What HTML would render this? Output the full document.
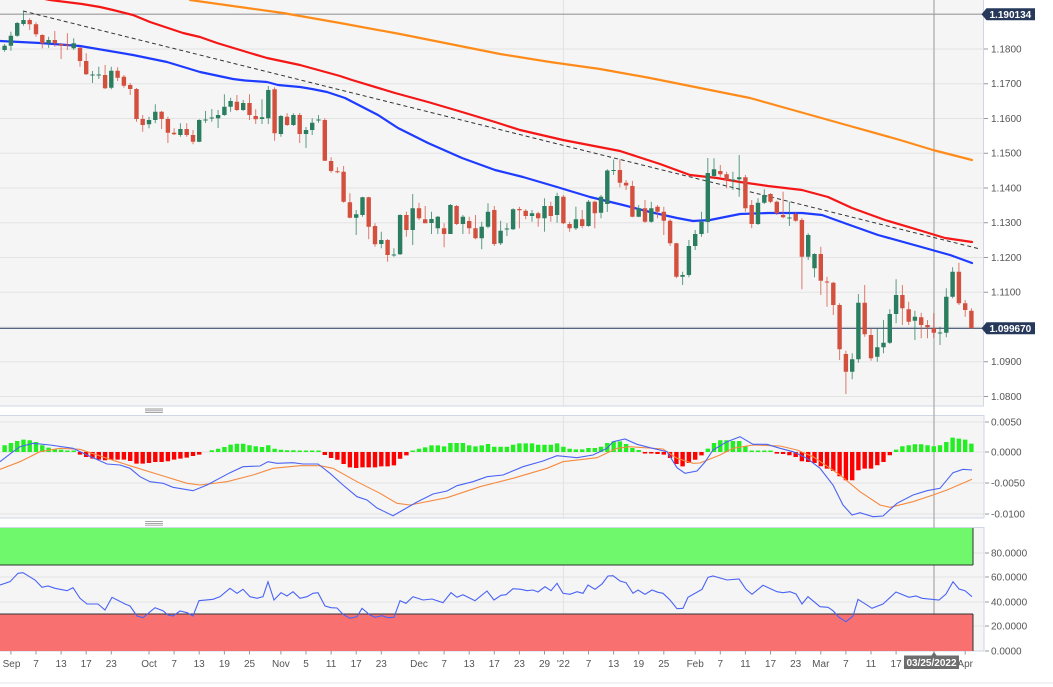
<!DOCTYPE html>
<html><head><meta charset="utf-8"><style>
html,body{margin:0;padding:0;background:#fff;}
svg{display:block;font-family:"Liberation Sans",sans-serif;}
</style></head><body>
<svg width="1053" height="687" viewBox="0 0 1053 687" xmlns="http://www.w3.org/2000/svg">
<rect x="0" y="0" width="1053" height="687" fill="#fff"/>
<!-- panel backgrounds -->
<rect x="0" y="0" width="983.5" height="406" fill="#f5f5f5"/>
<rect x="0" y="415" width="984" height="103" fill="#f5f5f5"/>
<rect x="0" y="527" width="984" height="124" fill="#f5f5f5"/>
<!-- gridlines main -->
<g stroke="#e3e3e3" stroke-width="1">
<path d="M0 49H983M0 83.7H983M0 118.5H983M0 153.2H983M0 188H983M0 222.7H983M0 257.5H983M0 292.2H983M0 327H983M0 361.7H983M0 396.5H983"/>
<path d="M0 422H984M0 452H984M0 483H984M0 514H984"/>
<path d="M0 553H984M0 577H984M0 602H984M0 626H984"/>
<path d="M563.4 0V406M563.4 415V518M563.4 527V651"/>
</g>
<!-- panel borders -->
<g stroke="#cfd6e4" stroke-width="1" fill="none">
<path d="M0 406H983.5V0"/>
<path d="M0 415.5H984V518H0"/>
<path d="M0 527.5H984V651H0"/>
</g>
<path d="M0 683H1053" stroke="#e2e5eb" stroke-width="1"/>
<!-- handles -->
<g stroke="#999" stroke-width="0.9">
<path d="M145 409H163M145 410.8H163M145 412.6H163"/>
<path d="M145 521.6H163M145 523.4H163M145 525.2H163"/>
</g>
<!-- crosshair -->
<path d="M934 0V655" stroke="#b3b3b3" stroke-width="1.4"/>
<!-- horizontal price lines -->
<path d="M0 14.2H983" stroke="#9a9a9a" stroke-width="1.2"/>
<path d="M0 328.3H983" stroke="#3f5070" stroke-width="1.2"/>
<!-- moving averages -->
<g fill="none" stroke-width="2.2" stroke-linejoin="round" stroke-linecap="round">
<polyline stroke="#ff8c1a" points="190,0 283,13 340,23 400,34 450,44 500,54 550,62 600,69 650,78 700,88 750,98 800,112 850,126 900,140 933,150 972,160"/>
<polyline stroke="#f51616" points="30,-4 50,0 82,4 100,7 113,10 133,15 150,22 183,33 200,37 217,43 250,53 267,58 300,65 340,76 352,80 395,93 428,102 462,112 495,122 520,130 563,140 620,151 660,164 690,175 717,178 740,182 768,186 802,190 828,197 852,208 885,220 922,231 945,238 972,242"/>
<polyline stroke="#1e3cff" points="0,41 20,42 40,43 80,46 133,55 167,62 200,72 233,79 245,80.5 267,82 278,85 300,87 312,89 327,92 345,98 378,115 398,128 428,143 462,158 495,170 523,177 557,187 590,197 623,205 650,212 677,218 693,221 710,220 740,214 768,213 802,213 822,215 847,224 878,235 925,248 950,255 972,263"/>
</g>
<!-- trendline -->
<path d="M23 11L980 249" stroke="#333" stroke-width="1" stroke-dasharray="4 3" fill="none"/>
<!-- candles wicks -->
<path fill="none" stroke="#2a7d5f" stroke-opacity="0.75" stroke-width="1" d="M4.6 44V51.7M10.9 31.7V50.7M17.2 22V36.7M23.5 10.7V25.7M48.6 36.7V47.7M73.7 38.3V50M92.5 71V83M98.8 66.7V79M111.3 66.7V89.3M149 116.7V128.3M155.3 104.3V123.3M180.4 123.3V136.7M199.2 119.3V142.3M205.5 111V123M211.8 109V121.7M218.1 110V128M224.4 94.3V115.7M230.6 97.7V111.7M243.2 100V111M262 99.3V124M268.3 86V124M280.9 115V136.7M293.4 113.3V126M306 127V148M312.2 118.3V135M318.5 115V122.7M356.2 210V235M362.5 196.7V216.7M381.3 231.7V248.3M393.9 248.3V256.7M400.1 214.3V255M412.7 194V245M431.5 211.7V234M437.8 216V234M450.4 204V234M462.9 215V234M481.7 221.7V249.3M488 203.3V228.3M500.6 220.7V245M506.9 223.3V236M513.1 208.3V230M532 210V221.7M544.5 198.3V231.7M557.1 192.7V222.7M575.9 206.7V230M588.5 200V226.7M601 195V218.3M607.3 169.3V212M613.6 159.5V175M638.7 205V217.3M651.3 201.7V222.7M682.6 271.7V285M688.9 240V277.3M695.2 230V250M701.5 211.7V236.7M707.8 158V233M714 158.3V178.3M732.9 171.7V190M739.2 155V196.7M758 198.3V225M764.3 189.3V204M789.4 201.7V226M808.2 233.3V260M814.5 253.3V277.3M852.2 353.3V379.3M858.4 294V362.7M877.3 328.3V361.7M883.5 320V353.3M889.8 309.3V344M896.1 279.3V323.3M914.9 310.7V340M940 326.7V345M946.3 288.3V337.3M952.6 267.3V298.3"/>
<path fill="none" stroke="#d4503e" stroke-opacity="0.75" stroke-width="1" d="M29.7 18.3V30M36 22.3V36.7M42.3 34.3V48.3M54.8 31V46.7M61.1 43.3V59M67.4 33.3V50M80 46.7V66.7M86.2 53.3V75M105.1 65V89M117.6 67.3V81M123.9 75V87.7M130.2 83V95M136.5 88V121.7M142.7 115V131.7M161.6 111V129M167.9 116.7V143M174.1 128.3V135M186.7 123.3V136.7M193 130V144.3M236.9 95V111M249.5 94.3V120M255.7 109.3V124M274.6 87.3V140.7M287.1 113.3V126M299.7 113V143M324.8 118.3V161M331.1 157.3V172.7M337.4 167.3V173.3M343.6 166V202.7M349.9 193.3V218.3M368.7 196.7V239.3M375 223.3V246.7M387.6 239V261.7M406.4 211.7V236.7M419 202.7V220M425.2 206V223.3M444.1 223.3V247.3M456.6 205V225M469.2 216.7V234M475.5 215V239.3M494.3 206V246M519.4 206.7V228.3M525.7 209.3V219.3M538.2 211.7V226.7M550.8 201.7V221.7M563.4 195V224M569.6 221.7V231.7M582.2 210V228.3M594.8 200.7V228.3M619.9 159.3V187.3M626.1 180V190M632.4 180.7V217.3M645 200V222.7M657.5 205V218.3M663.8 206.7V235M670.1 219.3V246M676.4 242.7V278.3M720.3 165V176.7M726.6 171.7V188.3M745.4 175V211.7M751.7 200V228.3M770.5 193.3V203.3M776.8 200.7V215M783.1 191.7V218.3M795.7 211.7V221.7M801.9 218V289.3M820.8 246.7V295M827 276.7V306.7M833.3 281.7V315M839.6 303.3V360M845.9 350.7V394M864.7 285V336.7M871 328.3V360.7M902.4 285V325M908.7 301.7V325M921.2 312.7V338.3M927.5 320V338.3M933.8 313.3V338.3M958.9 262.7V305M965.2 300V316.7M971.4 308.3V328.3"/>
<!-- candle bodies -->
<path fill="#2a7d5f" d="M2.4 45.7h4.4V50h-4.4ZM8.7 35.7h4.4V45.7h-4.4ZM15 23h4.4V35.7h-4.4ZM21.3 20h4.4V24h-4.4ZM46.4 40h4.4V43.3h-4.4ZM71.5 43.3h4.4V48.3h-4.4ZM90.3 74.5h4.4V75.5h-4.4ZM96.6 74.5h4.4V75.5h-4.4ZM109.1 70.7h4.4V87.7h-4.4ZM146.8 120h4.4V124.3h-4.4ZM153.1 111.7h4.4V120h-4.4ZM178.2 129h4.4V135h-4.4ZM197 120h4.4V141.7h-4.4ZM203.3 119.5h4.4V120.5h-4.4ZM209.6 117.5h4.4V118.5h-4.4ZM215.9 115h4.4V118.3h-4.4ZM222.2 106.7h4.4V115h-4.4ZM228.4 101h4.4V106.7h-4.4ZM241 103h4.4V110h-4.4ZM259.8 117.3h4.4V119h-4.4ZM266.1 90h4.4V118.3h-4.4ZM278.7 116h4.4V134h-4.4ZM291.2 115h4.4V125h-4.4ZM303.8 130h4.4V134h-4.4ZM310 122.7h4.4V130h-4.4ZM316.3 119.5h4.4V120.5h-4.4ZM354 214.3h4.4V217.7h-4.4ZM360.3 197.3h4.4V215h-4.4ZM379.1 240h4.4V244h-4.4ZM391.7 254.5h4.4V255.5h-4.4ZM397.9 215h4.4V254.3h-4.4ZM410.5 208.3h4.4V230h-4.4ZM429.3 219h4.4V223h-4.4ZM435.6 216.7h4.4V228.3h-4.4ZM448.2 205h4.4V234h-4.4ZM460.7 216.7h4.4V224h-4.4ZM479.5 226.7h4.4V238.3h-4.4ZM485.8 211.7h4.4V226.7h-4.4ZM498.4 230.7h4.4V243.3h-4.4ZM504.7 228.5h4.4V229.5h-4.4ZM510.9 209.3h4.4V229.3h-4.4ZM529.8 213.3h4.4V216h-4.4ZM542.3 206h4.4V218.3h-4.4ZM554.9 196h4.4V215h-4.4ZM573.7 219.3h4.4V228.3h-4.4ZM586.3 201.7h4.4V226h-4.4ZM598.8 196.7h4.4V212.7h-4.4ZM605.1 170.5h4.4V204h-4.4ZM611.4 170h4.4V171h-4.4ZM636.5 208.3h4.4V216.7h-4.4ZM649.1 208.3h4.4V221.7h-4.4ZM680.4 275h4.4V276.7h-4.4ZM686.7 246h4.4V275h-4.4ZM693 234h4.4V246h-4.4ZM699.3 221.7h4.4V234h-4.4ZM705.6 173h4.4V222h-4.4ZM711.8 169.3h4.4V176h-4.4ZM730.7 179.5h4.4V180.5h-4.4ZM737 177.3h4.4V179.3h-4.4ZM755.8 202.7h4.4V224h-4.4ZM762.1 195h4.4V202.7h-4.4ZM787.2 217.5h4.4V218.5h-4.4ZM806 235h4.4V256.7h-4.4ZM812.3 254h4.4V268.3h-4.4ZM850 359.3h4.4V371.7h-4.4ZM856.2 302.7h4.4V359.3h-4.4ZM875.1 347.3h4.4V356.7h-4.4ZM881.3 342.7h4.4V347.3h-4.4ZM887.6 314h4.4V342.7h-4.4ZM893.9 295h4.4V314h-4.4ZM912.7 316.7h4.4V320.7h-4.4ZM937.8 332.5h4.4V333.5h-4.4ZM944.1 296.7h4.4V332.7h-4.4ZM950.4 271.7h4.4V296.7h-4.4Z"/>
<path fill="#d4503e" d="M27.5 20h4.4V24.3h-4.4ZM33.8 24.3h4.4V34.3h-4.4ZM40.1 35h4.4V43.3h-4.4ZM52.6 40h4.4V43.3h-4.4ZM58.9 44h4.4V45.7h-4.4ZM65.2 44.5h4.4V45.5h-4.4ZM77.8 47.7h4.4V61h-4.4ZM84 61h4.4V74.3h-4.4ZM102.9 75h4.4V88.3h-4.4ZM115.4 70.7h4.4V77.7h-4.4ZM121.7 76.7h4.4V85.7h-4.4ZM128 85h4.4V89h-4.4ZM134.3 89h4.4V119h-4.4ZM140.5 119h4.4V125h-4.4ZM159.4 111.7h4.4V119h-4.4ZM165.7 119h4.4V132.7h-4.4ZM171.9 132.7h4.4V134.3h-4.4ZM184.5 129h4.4V135h-4.4ZM190.8 135h4.4V141.7h-4.4ZM234.7 101.7h4.4V110h-4.4ZM247.3 103h4.4V115h-4.4ZM253.5 116h4.4V119.3h-4.4ZM272.4 89.3h4.4V133.3h-4.4ZM284.9 116.7h4.4V125h-4.4ZM297.5 115h4.4V134h-4.4ZM322.6 120h4.4V160.7h-4.4ZM328.9 161h4.4V171h-4.4ZM335.2 171.2h4.4V172.2h-4.4ZM341.4 171.7h4.4V201.7h-4.4ZM347.7 202.3h4.4V217.7h-4.4ZM366.5 197.3h4.4V226.7h-4.4ZM372.8 226h4.4V244.3h-4.4ZM385.4 240h4.4V255h-4.4ZM404.2 215h4.4V230h-4.4ZM416.8 208.3h4.4V218.3h-4.4ZM423 219.3h4.4V223.3h-4.4ZM441.9 228.3h4.4V234h-4.4ZM454.4 206h4.4V224h-4.4ZM467 221h4.4V228.3h-4.4ZM473.3 228.3h4.4V238.3h-4.4ZM492.1 210h4.4V244h-4.4ZM517.2 209h4.4V210.3h-4.4ZM523.5 210.7h4.4V216h-4.4ZM536 213.3h4.4V218.3h-4.4ZM548.6 206h4.4V216h-4.4ZM561.2 196.7h4.4V223.3h-4.4ZM567.4 224h4.4V228.3h-4.4ZM580 219.3h4.4V226h-4.4ZM592.6 201.7h4.4V213.3h-4.4ZM617.7 170h4.4V182.7h-4.4ZM623.9 182.7h4.4V185.5h-4.4ZM630.2 186h4.4V216.7h-4.4ZM642.8 208.3h4.4V221.7h-4.4ZM655.3 206.7h4.4V211.7h-4.4ZM661.6 211.7h4.4V220.7h-4.4ZM667.9 220.7h4.4V243.3h-4.4ZM674.2 243.3h4.4V276.7h-4.4ZM718.1 171h4.4V174.3h-4.4ZM724.4 174.3h4.4V180h-4.4ZM743.2 177.3h4.4V208.3h-4.4ZM749.5 205h4.4V224h-4.4ZM768.3 194h4.4V201.7h-4.4ZM774.6 201.7h4.4V213.3h-4.4ZM780.9 215h4.4V217.3h-4.4ZM793.5 214h4.4V220.7h-4.4ZM799.7 220h4.4V256.7h-4.4ZM818.6 254h4.4V280.7h-4.4ZM824.8 281.5h4.4V282.5h-4.4ZM831.1 282.7h4.4V305h-4.4ZM837.4 305h4.4V349.3h-4.4ZM843.7 354h4.4V371.7h-4.4ZM862.5 302.7h4.4V334.3h-4.4ZM868.8 335h4.4V358.3h-4.4ZM900.2 295h4.4V308.3h-4.4ZM906.5 309.3h4.4V321.7h-4.4ZM919 317.3h4.4V325h-4.4ZM925.3 325h4.4V327.3h-4.4ZM931.6 328.3h4.4V332.7h-4.4ZM956.7 271.7h4.4V303.3h-4.4ZM963 303.3h4.4V310h-4.4ZM969.2 310.7h4.4V328.3h-4.4Z"/>
<!-- MACD histogram -->
<path fill="#22ee22" d="M2.4 445.3h4.4V452h-4.4ZM8.7 443h4.4V452h-4.4ZM15 441h4.4V452h-4.4ZM21.3 439.6h4.4V452h-4.4ZM27.5 440.3h4.4V452h-4.4ZM33.8 442h4.4V452h-4.4ZM40.1 445.3h4.4V452h-4.4ZM46.4 447.6h4.4V452h-4.4ZM52.6 449h4.4V452h-4.4ZM58.9 449.6h4.4V452h-4.4ZM65.2 450.5h4.4V452h-4.4ZM71.5 450.5h4.4V452h-4.4ZM209.6 450.3h4.4V452h-4.4ZM215.9 448.7h4.4V452h-4.4ZM222.2 447h4.4V452h-4.4ZM228.4 444.6h4.4V452h-4.4ZM234.7 443.7h4.4V452h-4.4ZM241 443.7h4.4V452h-4.4ZM247.3 445.3h4.4V452h-4.4ZM253.5 446.3h4.4V452h-4.4ZM259.8 447h4.4V452h-4.4ZM266.1 445.3h4.4V452h-4.4ZM272.4 448.7h4.4V452h-4.4ZM278.7 449.7h4.4V452h-4.4ZM284.9 450.3h4.4V452h-4.4ZM291.2 450.3h4.4V452h-4.4ZM297.5 450.5h4.4V452h-4.4ZM303.8 450.5h4.4V452h-4.4ZM310 450.5h4.4V452h-4.4ZM316.3 450.5h4.4V452h-4.4ZM410.5 450.5h4.4V452h-4.4ZM416.8 448.7h4.4V452h-4.4ZM423 447.4h4.4V452h-4.4ZM429.3 445.4h4.4V452h-4.4ZM435.6 445.4h4.4V452h-4.4ZM441.9 446.4h4.4V452h-4.4ZM448.2 443h4.4V452h-4.4ZM454.4 443h4.4V452h-4.4ZM460.7 443h4.4V452h-4.4ZM467 445.4h4.4V452h-4.4ZM473.3 446.4h4.4V452h-4.4ZM479.5 445.4h4.4V452h-4.4ZM485.8 444h4.4V452h-4.4ZM492.1 446.7h4.4V452h-4.4ZM498.4 446.7h4.4V452h-4.4ZM504.7 446.7h4.4V452h-4.4ZM510.9 444.7h4.4V452h-4.4ZM517.2 443.4h4.4V452h-4.4ZM523.5 443.4h4.4V452h-4.4ZM529.8 443.4h4.4V452h-4.4ZM536 444.7h4.4V452h-4.4ZM542.3 444.7h4.4V452h-4.4ZM548.6 444.7h4.4V452h-4.4ZM554.9 443.4h4.4V452h-4.4ZM561.2 446.7h4.4V452h-4.4ZM567.4 448.7h4.4V452h-4.4ZM573.7 449.4h4.4V452h-4.4ZM580 449.4h4.4V452h-4.4ZM586.3 448h4.4V452h-4.4ZM592.6 448h4.4V452h-4.4ZM598.8 446.7h4.4V452h-4.4ZM605.1 443h4.4V452h-4.4ZM611.4 441.4h4.4V452h-4.4ZM617.7 441.4h4.4V452h-4.4ZM623.9 444h4.4V452h-4.4ZM630.2 448h4.4V452h-4.4ZM636.5 450h4.4V452h-4.4ZM705.6 448.6h4.4V452h-4.4ZM711.8 443h4.4V452h-4.4ZM718.1 440.3h4.4V452h-4.4ZM724.4 440.3h4.4V452h-4.4ZM730.7 441h4.4V452h-4.4ZM737 441h4.4V452h-4.4ZM743.2 446.3h4.4V452h-4.4ZM749.5 450.5h4.4V452h-4.4ZM755.8 450.5h4.4V452h-4.4ZM762.1 450.5h4.4V452h-4.4ZM768.3 450.5h4.4V452h-4.4ZM893.9 449.6h4.4V452h-4.4ZM900.2 446.3h4.4V452h-4.4ZM906.5 445.3h4.4V452h-4.4ZM912.7 444.3h4.4V452h-4.4ZM919 444.3h4.4V452h-4.4ZM925.3 445.3h4.4V452h-4.4ZM931.6 446.3h4.4V452h-4.4ZM937.8 445.3h4.4V452h-4.4ZM944.1 442h4.4V452h-4.4ZM950.4 437.6h4.4V452h-4.4ZM956.7 438.6h4.4V452h-4.4ZM963 439.6h4.4V452h-4.4ZM969.2 443.6h4.4V452h-4.4Z"/>
<path fill="#ff0000" d="M77.8 452h4.4V454.6h-4.4ZM84 452h4.4V457h-4.4ZM90.3 452h4.4V458.6h-4.4ZM96.6 452h4.4V459.6h-4.4ZM102.9 452h4.4V460.3h-4.4ZM109.1 452h4.4V459.6h-4.4ZM115.4 452h4.4V459.6h-4.4ZM121.7 452h4.4V459.6h-4.4ZM128 452h4.4V461h-4.4ZM134.3 452h4.4V463.6h-4.4ZM140.5 452h4.4V463.6h-4.4ZM146.8 452h4.4V463h-4.4ZM153.1 452h4.4V462h-4.4ZM159.4 452h4.4V462h-4.4ZM165.7 452h4.4V461.3h-4.4ZM171.9 452h4.4V459.6h-4.4ZM178.2 452h4.4V458.6h-4.4ZM184.5 452h4.4V457.6h-4.4ZM190.8 452h4.4V456h-4.4ZM197 452h4.4V454.6h-4.4ZM322.6 452h4.4V455h-4.4ZM328.9 452h4.4V458h-4.4ZM335.2 452h4.4V459.7h-4.4ZM341.4 452h4.4V464h-4.4ZM347.7 452h4.4V467.4h-4.4ZM354 452h4.4V468h-4.4ZM360.3 452h4.4V467.4h-4.4ZM366.5 452h4.4V467.4h-4.4ZM372.8 452h4.4V467.4h-4.4ZM379.1 452h4.4V466.4h-4.4ZM385.4 452h4.4V466.4h-4.4ZM391.7 452h4.4V465.4h-4.4ZM397.9 452h4.4V458.7h-4.4ZM404.2 452h4.4V455.4h-4.4ZM642.8 452h4.4V453.5h-4.4ZM649.1 452h4.4V453.5h-4.4ZM655.3 452h4.4V454h-4.4ZM661.6 452h4.4V454.6h-4.4ZM667.9 452h4.4V458h-4.4ZM674.2 452h4.4V464h-4.4ZM680.4 452h4.4V466.4h-4.4ZM686.7 452h4.4V463h-4.4ZM693 452h4.4V459.7h-4.4ZM699.3 452h4.4V455.4h-4.4ZM774.6 452h4.4V453.6h-4.4ZM780.9 452h4.4V454h-4.4ZM787.2 452h4.4V455.3h-4.4ZM793.5 452h4.4V457h-4.4ZM799.7 452h4.4V461.3h-4.4ZM806 452h4.4V462h-4.4ZM812.3 452h4.4V463h-4.4ZM818.6 452h4.4V466.3h-4.4ZM824.8 452h4.4V468.6h-4.4ZM831.1 452h4.4V471h-4.4ZM837.4 452h4.4V476.3h-4.4ZM843.7 452h4.4V480.3h-4.4ZM850 452h4.4V480.3h-4.4ZM856.2 452h4.4V470.3h-4.4ZM862.5 452h4.4V468.6h-4.4ZM868.8 452h4.4V468.6h-4.4ZM875.1 452h4.4V465.3h-4.4ZM881.3 452h4.4V462h-4.4ZM887.6 452h4.4V455.3h-4.4Z"/>
<!-- MACD lines -->
<polyline fill="none" stroke="#f58a40" stroke-width="1.1" points="0,469.3 20,461.7 40,451.7 60,448.3 80,449.3 107,458.3 133,466.7 160,475 187,483.3 200,485 227,481.7 253,475 273,468.3 300,465.7 320,465.7 333,468.3 357,481.7 380,493.3 397,503.3 410,505 447,497.7 480,486.7 513,478.3 547,468.3 563,461.7 597,457.7 617,448.3 630,446.7 663,449 677,458.3 693,463.3 700,463 720,455 733,448.3 753,445 780,446 797,450 813,456.7 840,475 860,491.7 880,505 890,507.3 913,501.7 933,495 947,490 972,479.3"/>
<polyline fill="none" stroke="#4a63f5" stroke-width="1.1" points="0,461.7 13,451.7 20,446.7 33,443.3 50,445 73,448.3 87,455 107,464 120,465 130,468.3 140,476.7 150,481.7 163,483.3 173,487.3 193,490.7 207,485 230,472.7 243,466.7 260,466 268,461.7 277,463.3 293,462.7 303,464 318,464 330,473.3 343,485 357,496.7 367,500 377,508 393,515.7 403,510 417,502 433,494 447,491 457,485.7 473,481.7 487,476.7 503,475 523,466.7 543,461 557,455.7 577,457.7 593,455 607,448.3 613,441.7 625,439 637,444.3 650,447.7 667,451.7 677,467.7 685,473.3 697,471 705,462 713,450 727,441.7 740,436.7 753,444.3 767,444.3 780,448.3 793,451.7 807,458.3 820,468.3 833,485 843,505 852,515 860,512.7 873,516.7 883,516 897,503.3 913,495 927,490.7 940,488.3 953,472.7 963,469.3 972,470"/>
<!-- RSI bands -->
<rect x="0" y="528" width="973" height="37" fill="#6ff86c"/>
<rect x="0" y="614" width="973" height="37" fill="#f87070"/>
<g stroke="#333" stroke-width="1" fill="none">
<path d="M0 565H973M0 614H973"/>
<path d="M973 528V565M973 614V651"/>
</g>
<!-- RSI line -->
<polyline fill="none" stroke="#4a63f5" stroke-width="1.1" points="0,585 10,581.7 18,573.3 23,572.7 35,580 42,587.3 48,586 55,588.3 67,590.7 73,587.7 80,598.3 87,604 98,604 105,610 112,597.3 125,604 130,606 137,616 143,617.7 155,607.7 163,610.7 168,615 173,616 180,611 187,612.7 193,616 199,600.7 213,599.3 220,596.7 230,588.3 237,593.3 243,589.3 250,596.7 257,598.3 263,596.7 268,581.7 274,600 281,592.7 287,596 293,591.7 300,598.3 307,596.7 313,593.3 318,592.7 325,606 331,607.7 337,608 343,614.3 350,618.3 357,616.7 362,608.3 370,615 375,617.3 382,615.7 388,617.7 394,617.3 400,600.7 406,603.3 413,596.7 423,600 432,599 443,602.7 451,592.7 457,597.3 463,594.7 475,600.7 487,591 494,600 501,595.3 506,594.7 513,588.7 521,589.3 527,590.7 533,590 538,592 545,586.7 551,590.7 557,583.3 563,593.3 570,594.3 577,591.7 583,593.3 588,585 595,589.3 602,584 608,576 613,575.7 620,581 626,582.7 633,593.3 638,590 645,594.3 652,590 658,592.3 663,593.3 670,600 677,608.7 683,608.3 688,597.3 702,589.3 708,577.3 713,576 727,580 739,579 746,589.3 752,594.3 763,585.3 777,591.7 783,592.7 790,591.7 796,594 802,604 808,596.7 820,606.7 828,607.3 833,610.7 839,617.3 846,621.7 853,616 858,599.3 872,608.3 883,604 896,592 909,597.3 916,596 922,598.3 939,600 946,594 953,581.7 959,589 965,590.7 972,596.7"/>
<!-- right axis ticks -->
<g stroke="#999" stroke-width="1">
<path d="M984 49H988M984 83.7H988M984 118.5H988M984 153.2H988M984 188H988M984 222.7H988M984 257.5H988M984 292.2H988M984 361.7H988M984 396.5H988"/>
<path d="M985 422H989M985 452H989M985 483H989M985 514H989"/>
<path d="M985 553H989M985 577H989M985 602H989M985 626H989M985 651H989"/>
</g>
<g font-size="10" fill="#555">
<text x="991" y="52.5">1.1800</text>
<text x="991" y="87.2">1.1700</text>
<text x="991" y="122">1.1600</text>
<text x="991" y="156.7">1.1500</text>
<text x="991" y="191.5">1.1400</text>
<text x="991" y="226.2">1.1300</text>
<text x="991" y="261">1.1200</text>
<text x="991" y="295.7">1.1100</text>
<text x="991" y="365.2">1.0900</text>
<text x="991" y="400">1.0800</text>
<text x="991" y="425.5">0.0050</text>
<text x="991" y="455.5">0.0000</text>
<text x="991" y="486.5">-0.0050</text>
<text x="991" y="517.5">-0.0100</text>
<text x="991" y="556.5">80.0000</text>
<text x="991" y="580.5">60.0000</text>
<text x="991" y="605.5">40.0000</text>
<text x="991" y="629.5">20.0000</text>
<text x="991" y="654.5">0.0000</text>
</g>
<!-- price tags -->
<polygon points="981.5,14.2 986.5,8.2 1035,8.2 1035,20.2 986.5,20.2" fill="#27395a"/>
<text x="989.5" y="17.9" font-size="10" font-weight="bold" fill="#fff">1.190134</text>
<polygon points="981.5,328.3 986.5,322.3 1035,322.3 1035,334.3 986.5,334.3" fill="#27395a"/>
<text x="989.5" y="332" font-size="10" font-weight="bold" fill="#fff">1.099670</text>
<!-- x axis ticks -->
<g stroke="#999" stroke-width="1">
<path d="M10.9 651V654.5M36 651V654.5M61.1 651V654.5M86.2 651V654.5M111.3 651V654.5M149 651V654.5M174.1 651V654.5M199.2 651V654.5M224.4 651V654.5M249.5 651V654.5M280.9 651V654.5M306 651V654.5M331.1 651V654.5M356.2 651V654.5M381.3 651V654.5M419 651V654.5M444.1 651V654.5M469.2 651V654.5M494.3 651V654.5M519.4 651V654.5M544.5 651V654.5M563.4 651V654.5M588.5 651V654.5M613.6 651V654.5M638.7 651V654.5M663.8 651V654.5M695.2 651V654.5M720.3 651V654.5M745.4 651V654.5M770.5 651V654.5M795.7 651V654.5M820.8 651V654.5M845.9 651V654.5M871 651V654.5M896.1 651V654.5M965.2 651V654.5"/>
</g>
<g font-size="10" fill="#555" text-anchor="middle">
<text x="11.5" y="667">Sep</text>
<text x="36" y="667">7</text>
<text x="61.1" y="667">13</text>
<text x="86.2" y="667">17</text>
<text x="111.3" y="667">23</text>
<text x="149" y="667">Oct</text>
<text x="174.1" y="667">7</text>
<text x="199.2" y="667">13</text>
<text x="224.4" y="667">19</text>
<text x="249.5" y="667">25</text>
<text x="280.9" y="667">Nov</text>
<text x="306" y="667">5</text>
<text x="331.1" y="667">11</text>
<text x="356.2" y="667">17</text>
<text x="381.3" y="667">23</text>
<text x="419" y="667">Dec</text>
<text x="444.1" y="667">7</text>
<text x="469.2" y="667">13</text>
<text x="494.3" y="667">17</text>
<text x="519.4" y="667">23</text>
<text x="544.5" y="667">29</text>
<text x="563.4" y="667">'22</text>
<text x="588.5" y="667">7</text>
<text x="613.6" y="667">13</text>
<text x="638.7" y="667">19</text>
<text x="663.8" y="667">25</text>
<text x="695.2" y="667">Feb</text>
<text x="720.3" y="667">7</text>
<text x="745.4" y="667">11</text>
<text x="770.5" y="667">17</text>
<text x="795.7" y="667">23</text>
<text x="820.8" y="667">Mar</text>
<text x="845.9" y="667">7</text>
<text x="871" y="667">11</text>
<text x="896.1" y="667">17</text>
<text x="965.2" y="667">Apr</text>
</g>
<!-- crosshair date tag -->
<polygon points="934,652 937,656 931,656" fill="#6d6d6d"/>
<rect x="904" y="655.5" width="55" height="13.5" fill="#6d6d6d"/>
<text x="931.5" y="666.2" font-size="10" font-weight="bold" fill="#fff" text-anchor="middle">03/25/2022</text>
</svg>
</body></html>
